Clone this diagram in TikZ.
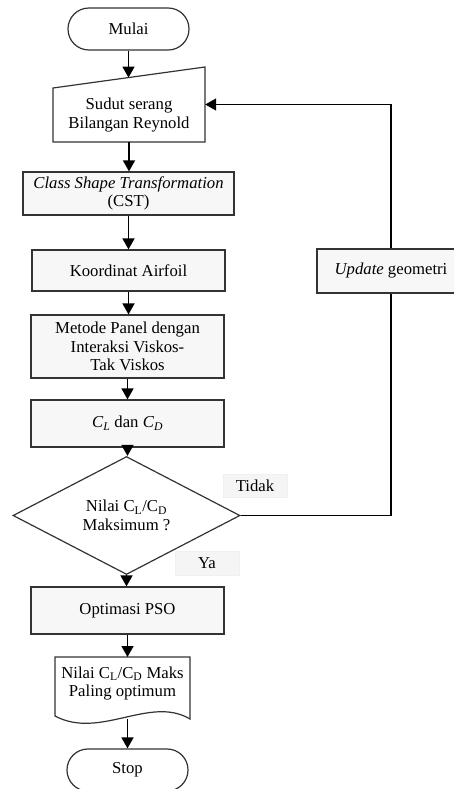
\documentclass[tikz,border=0pt]{standalone}
\usepackage{fontspec}
\setmainfont{Liberation Serif}
\usetikzlibrary{arrows.meta,shapes.geometric}
\begin{document}
\begin{tikzpicture}[x=1pt,y=-1pt,
  font=\fontsize{16.7}{18.5}\selectfont,
  boxst/.style={draw=black!80,line width=1.2pt,fill=black!3,inner sep=0pt,align=center},
  termst/.style={draw=black!80,line width=1.2pt,fill=white,inner sep=0pt,rounded corners=20.9pt,minimum width=121pt,minimum height=42pt},
  plain/.style={inner sep=0pt,align=center},
  lblst/.style={draw=black!6,fill=black!4,inner sep=0pt,line width=0.6pt},
  conn/.style={line width=1.6pt,black},
  arr/.style={conn,-{Triangle[length=11pt,width=12pt]}}]
\useasboundingbox (0,0) rectangle (453,789);
% terminators
\node[termst] (mulai) at (128.5,29) {Mulai};
\node[termst] (stop) at (127.5,770) {Stop};
% manual input
\node[plain,minimum width=152pt,minimum height=75pt] (inp) at (129,104.5) {};
\draw[draw=black!80,line width=1.2pt,fill=white] (53,88) -- (205,67) -- (205,142) -- (53,142) -- cycle;
\node[plain] (inptxt) at (129,115) {Sudut serang\\Bilangan Reynold};
\coordinate (inptop) at (128.5,77.6);
% process boxes
\node[boxst,minimum width=211pt,minimum height=43pt] (cst) at (128.5,193.5) {\textit{Class Shape Transformation}\\(CST)};
\node[boxst,minimum width=193pt,minimum height=41pt] (koord) at (128.5,270.5) {Koordinat Airfoil};
\node[boxst,minimum width=193pt,minimum height=63pt] (panel) at (127.5,346.5) {Metode Panel dengan\\Interaksi Viskos-\\Tak Viskos};
\node[boxst,minimum width=193pt,minimum height=47pt] (cl) at (127.5,423.5) {\textit{C}\textsubscript{\textit{L}} dan \textit{C}\textsubscript{\textit{D}}};
\node[boxst,shape=diamond,fill=white,minimum width=227pt,minimum height=85pt] (dia) at (126.5,515.5) {Nilai C\textsubscript{L}/C\textsubscript{D}\\Maksimum ?};
\node[boxst,minimum width=193pt,minimum height=47pt] (pso) at (127.5,610.5) {Optimasi PSO};
\node[boxst,minimum width=148pt,minimum height=44pt] (upd) at (391,271) {\textit{Update} geometri};
% labels
\node[lblst,minimum width=64pt,minimum height=23pt] (tidak) at (255,485.5) {Tidak};
\node[lblst,minimum width=64pt,minimum height=24pt] (ya) at (207,563) {Ya};
% document
\draw[draw=black!80,line width=1.2pt,fill=white] (55,657) -- (190,657) -- (190,719)
  .. controls (150,695) and (100,740) .. (55,716) -- cycle;
\node[plain] (doc) at (122.5,683.5) {Nilai C\textsubscript{L}/C\textsubscript{D} Maks\\Paling optimum};
\coordinate (docbot) at (127.5,719);
% connectors
\draw[arr] (mulai.south) -- (inptop);
\draw[arr] (inp.south) -- (inp.south |- cst.north);
\draw[arr] (cst.south) -- (cst.south |- koord.north);
\draw[arr] (koord.south) -- (koord.south |- panel.north);
\draw[arr] (panel.south) -- (panel.south |- cl.north);
\draw[arr] (cl.south) -- (cl.south |- dia.north);
\draw[arr] (dia.south) -- (dia.south |- pso.north);
\draw[arr] (pso.south) -- (pso.south |- 0,657);
\draw[arr] (docbot) -- (stop.north);
\draw[conn] (dia.east) -| (upd.south);
\draw[arr] (upd.north) |- (inp.east);
\end{tikzpicture}
\end{document}
